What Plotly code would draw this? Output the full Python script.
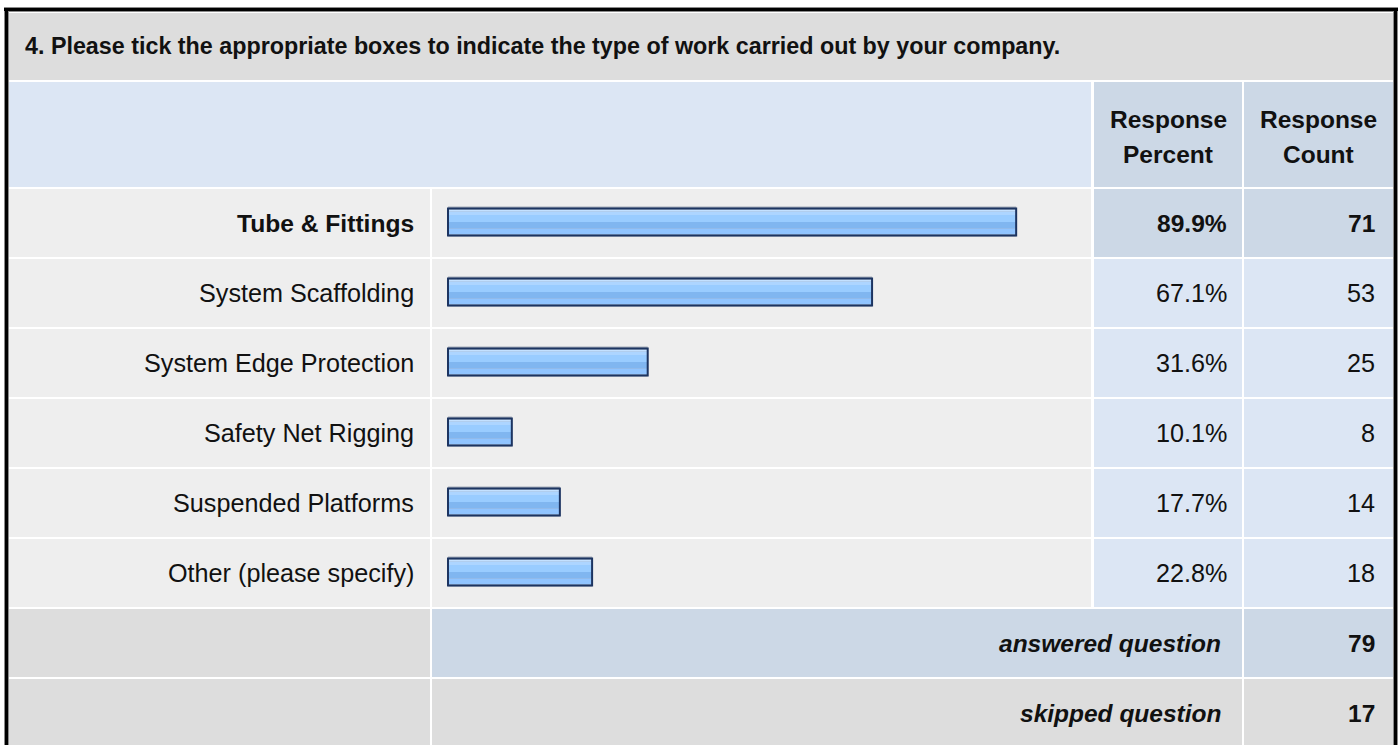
import plotly.graph_objects as go

# survey results
categories = ["Tube & Fittings", "System Scaffolding", "System Edge Protection",
              "Safety Net Rigging", "Suspended Platforms", "Other (please specify)"]
percents = [89.9, 67.1, 31.6, 10.1, 17.7, 22.8]
counts = [71, 53, 25, 8, 14, 18]
highlight = "Tube & Fittings"
answered = 79
skipped = 17
question = "4. Please tick the appropriate boxes to indicate the type of work carried out by your company."
col_headers = [("Response", "Percent"), ("Response", "Count")]

W, H = 1398, 745
FONT = "Liberation Sans, Arial, Helvetica, sans-serif"

# table geometry in pixels (from the top-left corner)
LABEL = (9, 430)
BAR = (432, 1091)
PCT = (1094, 1242)
CNT = (1244, 1393)
ROW_TOP, ROW_H = 189, 70
BAR_X0, BAR_X100 = 448, 1080

GRAY, LIGHT_GRAY = "#DDDDDD", "#EEEEEE"
BLUE, DARK_BLUE = "#DCE6F4", "#CCD8E6"


def px(x):
    return x / W


def py(y):
    return 1 - y / H


shapes = []
annotations = []


def cell(x0, x1, y0, y1, color):
    shapes.append(dict(type="rect", xref="paper", yref="y", x0=px(x0), x1=px(x1),
                       y0=y0, y1=y1, fillcolor=color, line_width=0, layer="below"))


def text(s, x, y, anchor="right", bold=False, italic=False, size=24.5):
    if anchor == "right":
        x += 3  # annotation box padding
    annotations.append(dict(text=s, x=px(x), y=y, xref="paper", yref="y",
                            xanchor=anchor, yanchor="middle", showarrow=False,
                            font=dict(family=FONT, size=size, color="#111111",
                                      weight="bold" if bold else "normal",
                                      style="italic" if italic else "normal")))


# title + header rows
cell(LABEL[0], CNT[1], 13, 80, GRAY)
text(question, 23, 46, anchor="left", bold=True, size=23.3)
cell(LABEL[0], BAR[1], 82, 187, BLUE)
for (x0, x1), (l1, l2) in zip([PCT, CNT], col_headers):
    cell(x0, x1, 82, 187, DARK_BLUE)
    text(l1, (x0 + x1) / 2, 119, anchor="center", bold=True)
    text(l2, (x0 + x1) / 2, 154, anchor="center", bold=True)

# one row per answer option
centers = []
for i, (cat, p, c) in enumerate(zip(categories, percents, counts)):
    top = ROW_TOP + ROW_H * i
    bot = top + ROW_H - 2
    mid = top + 34
    centers.append(top + 33)
    hl = cat == highlight
    cell(*LABEL, top, bot, LIGHT_GRAY)
    cell(*BAR, top, bot, LIGHT_GRAY)
    cell(*PCT, top, bot, DARK_BLUE if hl else BLUE)
    cell(*CNT, top, bot, DARK_BLUE if hl else BLUE)
    sz = 24.6 if hl else 25.2
    text(cat, 413, mid, bold=hl, size=sz)
    text(f"{p:.1f}%", 1226, mid, bold=hl, size=sz)
    text(str(c), 1374, mid, bold=hl, size=sz)

# summary rows
top = ROW_TOP + ROW_H * len(categories)
for label, val, color in [("answered question", answered, DARK_BLUE),
                          ("skipped question", skipped, GRAY)]:
    bot = top + ROW_H - 2
    cell(*LABEL, top, bot, GRAY)
    cell(BAR[0], PCT[1], top, bot, color)
    cell(*CNT, top, bot, color)
    text(label, 1220, top + 34, bold=True, italic=True)
    text(str(val), 1374, top + 34, bold=True)
    top += ROW_H

# outer frame
for w, col in [(5, "#8A8A8A"), (3, "#000000")]:
    for x0, y0, x1, y1 in [(4, 9.5, 1398, 9.5), (6.5, 8, 6.5, 760), (1395.5, 8, 1395.5, 760)]:
        shapes.append(dict(type="line", xref="paper", yref="paper",
                           x0=px(x0), x1=px(x1), y0=py(y0), y1=py(y1),
                           line=dict(color=col, width=w)))

fig = go.Figure()

# glossy bars: shadow, colour bands, then dark outline on top
bands = [("#A4ACBA", -15.5, 14.5), ("#C4E1FF", -12.5, -10.5), ("#ADD5FF", -10.5, -7),
         ("#99CCFF", -7, 0), ("#80B6F0", 0, 6.5), ("#90C4FF", 6.5, 12.5)]
for color, a, b in bands:
    fig.add_trace(go.Bar(x=percents, y=centers, orientation="h", width=b - a, offset=a,
                         marker=dict(color=color, line_width=0), hoverinfo="skip"))
fig.add_trace(go.Bar(x=percents, y=centers, orientation="h", width=27, offset=-13.5,
                     marker=dict(color="rgba(0,0,0,0)", line=dict(color="#1C3461", width=2)),
                     hoverinfo="skip"))

scale = (BAR_X100 - BAR_X0) / 100
fig.update_layout(
    width=W, height=H, margin=dict(l=0, r=0, t=0, b=0),
    paper_bgcolor="white", plot_bgcolor="rgba(0,0,0,0)",
    barmode="overlay", showlegend=False,
    xaxis=dict(domain=[px(440), px(1090)],
               range=[-(BAR_X0 - 440) / scale, 100 + (1090 - BAR_X100) / scale],
               visible=False, fixedrange=True),
    yaxis=dict(domain=[0, 1], range=[H, 0], visible=False, fixedrange=True),
    shapes=shapes, annotations=annotations,
)

# drop the page's default body margin so the figure fills the window
fig.write_html("out.html", config={"displayModeBar": False},
               post_script="document.body.style.margin='0';")
